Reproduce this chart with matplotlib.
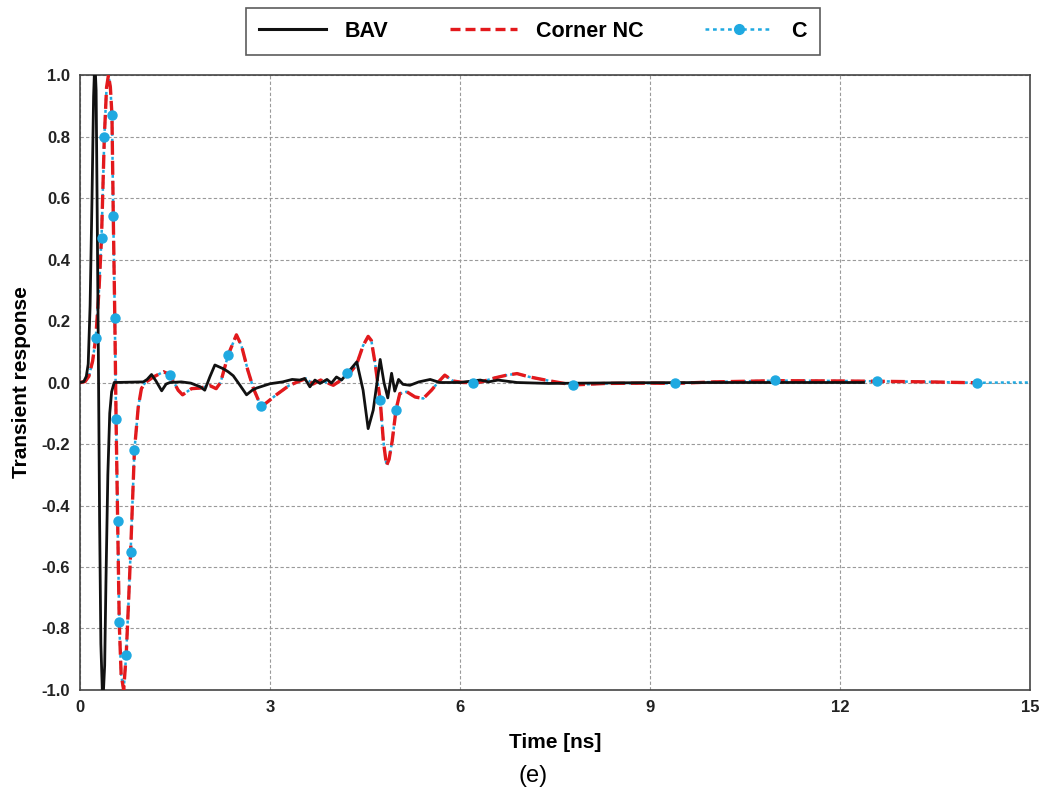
import numpy as np
import matplotlib
matplotlib.use("Agg")
import matplotlib.pyplot as plt
from matplotlib.lines import Line2D

plt.rcParams['font.family'] = ['Liberation Sans', 'DejaVu Sans']

# BAV (black solid)
bav_t = [0, 0.06, 0.1, 0.13, 0.16, 0.19, 0.215, 0.235, 0.255, 0.27, 0.29, 0.31, 0.33,
         0.36, 0.39, 0.41, 0.44, 0.47, 0.5, 0.54, 1.0, 1.06, 1.13, 1.2, 1.29, 1.36, 1.42,
         1.6, 1.75, 1.9, 1.97, 2.05, 2.13, 2.26, 2.34, 2.42, 2.53, 2.63, 2.72, 2.79, 3.0,
         3.2, 3.35, 3.47, 3.55, 3.63, 3.71, 3.79, 3.9, 3.97, 4.05, 4.13, 4.24, 4.37, 4.47,
         4.55, 4.63, 4.74, 4.8, 4.86, 4.92, 4.97, 5.03, 5.1, 5.21, 5.35, 5.53, 5.68, 6.0,
         6.32, 6.45, 6.6, 6.9, 7.4, 8.5, 10.0, 12.37]
bav_v = [0, 0.003, 0.02, 0.06, 0.25, 0.6, 0.93, 1.05, 0.95, 0.6, 0.1, -0.45, -0.85,
         -1.05, -0.92, -0.65, -0.3, -0.1, -0.03, 0.0, 0.002, 0.01, 0.026, 0.005, -0.027, -0.005, 0.0,
         0.002, -0.002, -0.014, -0.025, 0.018, 0.057, 0.045, 0.035, 0.022, -0.01, -0.04, -0.025, -0.018, -0.004,
         0.002, 0.01, 0.008, 0.013, -0.014, 0.008, -0.003, 0.01, -0.002, 0.018, 0.008, 0.035, 0.067, -0.025,
         -0.15, -0.09, 0.075, 0.0, -0.05, 0.03, -0.028, 0.01, -0.006, -0.009, 0.002, 0.01, 0.0, 0.0,
         0.008, 0.002, 0.008, 0.0, -0.003, -0.001, 0.0, 0.0]

# Corner NC (red dashed)
nc_t = [0, 0.08, 0.14, 0.2, 0.25, 0.3, 0.34, 0.385, 0.42, 0.45, 0.48, 0.505, 0.526, 0.55,
        0.57, 0.595, 0.62, 0.65, 0.69, 0.73, 0.77, 0.8, 0.86, 0.92, 0.97, 1.03, 1.16, 1.32,
        1.42, 1.55, 1.62, 1.76, 1.9, 2.05, 2.15, 2.22, 2.34, 2.47, 2.55, 2.65, 2.74, 2.86,
        2.95, 3.1, 3.3, 3.47, 3.57, 3.68, 3.8, 4.0, 4.16, 4.26, 4.37, 4.47, 4.55, 4.6, 4.66,
        4.71, 4.74, 4.79, 4.84, 4.88, 4.93, 4.99, 5.05, 5.16, 5.29, 5.42, 5.55, 5.66, 5.76,
        5.89, 6.05, 6.3, 6.55, 6.74, 6.9, 7.1, 7.4, 7.78, 8.3, 9.0, 9.4, 10.0, 11.0, 12.0,
        12.6, 13.4, 14.18]
nc_v = [0, 0.003, 0.02, 0.07, 0.146, 0.3, 0.47, 0.8, 0.96, 1.0, 0.96, 0.87, 0.54, 0.21,
        -0.12, -0.45, -0.78, -0.95, -1.0, -0.885, -0.7, -0.55, -0.22, -0.08, -0.02, 0.0, 0.018, 0.035,
        0.025, -0.025, -0.04, -0.02, -0.018, -0.01, -0.02, 0.0, 0.09, 0.155, 0.12, 0.04, -0.02, -0.078,
        -0.065, -0.04, -0.01, 0.005, 0.013, -0.005, 0.008, -0.009, 0.013, 0.03, 0.06, 0.12, 0.15, 0.137, 0.062,
        -0.014, -0.057, -0.19, -0.27, -0.25, -0.19, -0.088, -0.036, -0.03, -0.047, -0.052, -0.025, 0.002, 0.024,
        0.005, 0.0, 0.0, 0.015, 0.024, 0.029, 0.018, 0.006, -0.008, -0.003, -0.002, -0.003, 0.002, 0.006, 0.005,
        0.004, 0.002, -0.001]

# C (blue dotted with markers) - follows Corner NC and runs on to 15 ns
c_t = nc_t + [14.6, 15.0]
c_v = nc_v + [0.0, 0.0]
c_mark_t = [0.25, 0.34, 0.385, 0.505, 0.526, 0.55, 0.57, 0.595, 0.62, 0.73, 0.8, 0.86,
            1.42, 2.34, 2.86, 4.22, 4.74, 4.99, 6.21, 7.78, 9.39, 10.97, 12.58, 14.16]
c_mark_v = [0.146, 0.47, 0.8, 0.87, 0.54, 0.21, -0.12, -0.45, -0.78, -0.885, -0.55, -0.22,
            0.025, 0.09, -0.078, 0.032, -0.057, -0.088, 0.0, -0.008, -0.003, 0.007, 0.004, -0.001]

xticks = [0, 3, 6, 9, 12, 15]
yticks = [-1.0, -0.8, -0.6, -0.4, -0.2, 0.0, 0.2, 0.4, 0.6, 0.8, 1.0]

black = '#111111'
red = '#e3191c'
blue = '#1fa9e1'

fig = plt.figure(figsize=(10.44, 7.94), dpi=100)
ax = fig.add_axes([0.0766, 0.131, 0.91, 0.7745])

ax.plot(c_t, c_v, color=blue, lw=1.8, ls=(0, (1.2, 1.2)), zorder=2)
ax.plot(nc_t, nc_v, color=red, lw=2.4, ls=(0, (4.2, 1.8)), zorder=3)
ax.plot(bav_t, bav_v, color=black, lw=2.0, zorder=4)
ax.plot(c_mark_t, c_mark_v, ls='none', marker='o', ms=6.5, color=blue, zorder=5)

ax.set_xlim(0, 15)
ax.set_ylim(-1.0, 1.0)
ax.set_xticks(xticks)
ax.set_yticks(yticks)
ax.set_yticklabels(['%.1f' % v for v in yticks])
ax.tick_params(length=0, labelsize=12, colors='#222222', pad=7)
for lab in ax.get_xticklabels() + ax.get_yticklabels():
    lab.set_fontweight('bold')
ax.grid(True, color='#9a9a9a', ls=(0, (3, 2)), lw=0.8)
for s in ax.spines.values():
    s.set_color('#444444')
    s.set_linewidth(1.2)

ax.set_xlabel('Time [ns]', fontsize=15, fontweight='bold', labelpad=13)
ax.set_ylabel('Transient response', fontsize=15, fontweight='bold', labelpad=8)
fig.text(0.5105, 0.0227, '(e)', fontsize=17, ha='center', va='center')

handles = [Line2D([], [], color=black, lw=2.2),
           Line2D([], [], color=red, lw=2.4, ls=(0, (3, 1.5))),
           Line2D([], [], color=blue, lw=1.8, ls=(0, (1.5, 1.5)), marker='o', ms=7)]
leg = fig.legend(handles, ['BAV', 'Corner NC', 'C'], loc='upper center',
                 bbox_to_anchor=(0.5105, 0.99), borderaxespad=0, ncol=3, frameon=True,
                 fancybox=False, edgecolor='#333333', handlelength=3.1, handletextpad=0.9,
                 columnspacing=2.85, borderpad=0.6, prop={'weight': 'bold', 'size': 15.5})
leg.get_frame().set_linewidth(1.2)

fig.savefig('out.png', dpi=100)
